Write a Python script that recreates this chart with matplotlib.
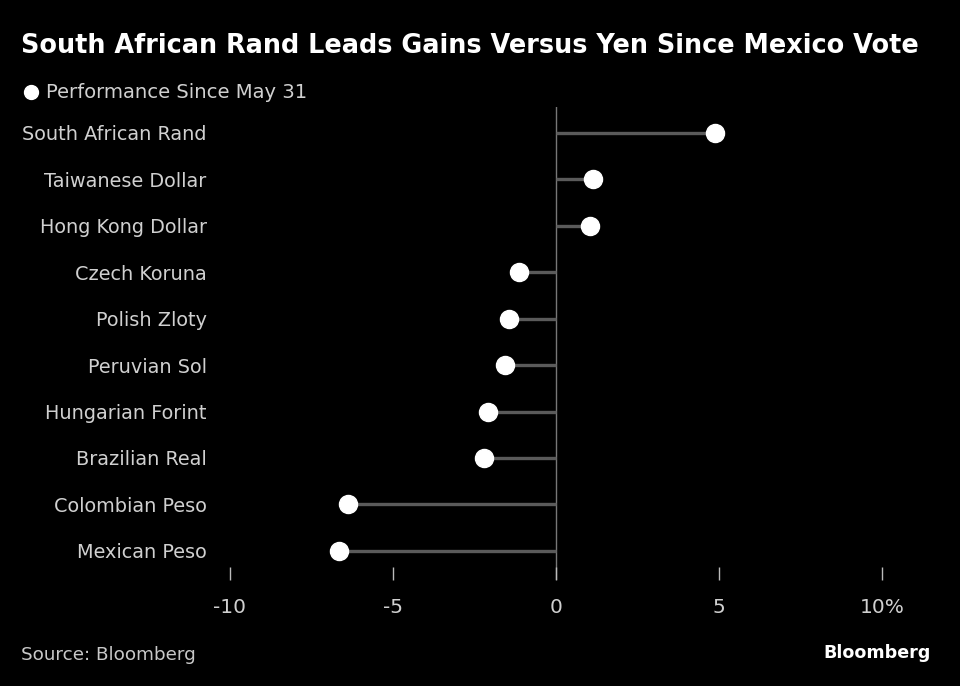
import matplotlib.pyplot as plt
from matplotlib.lines import Line2D

currencies = [
    "South African Rand",
    "Taiwanese Dollar",
    "Hong Kong Dollar",
    "Czech Koruna",
    "Polish Zloty",
    "Peruvian Sol",
    "Hungarian Forint",
    "Brazilian Real",
    "Colombian Peso",
    "Mexican Peso",
]
performance = [4.88, 1.13, 1.04, -1.13, -1.44, -1.56, -2.09, -2.21, -6.38, -6.66]
tick_values = [-10, -5, 0, 5, 10]
tick_labels = ["-10", "-5", "0", "5", "10%"]

W, H = 960, 686
fig = plt.figure(figsize=(W / 100, H / 100), dpi=100, facecolor="black")

# axes placed in pixel terms: left 215, right 920, top 107, bottom 580
left, right, top, bottom = 215, 920, 107, 580
ax = fig.add_axes([left / W, 1 - bottom / H, (right - left) / W, (bottom - top) / H])
ax.set_facecolor("black")

y = list(range(len(currencies)))
ax.hlines(y, 0, performance, color="#5a5a5a", linewidth=2.4, zorder=2)
ax.plot(performance, y, "o", color="white", markersize=13, zorder=3)
ax.axvline(0, color="#777777", linewidth=1.0, zorder=1)

# px -> data: 0 at 556, 32.6 px per unit
ax.set_xlim((left - 556) / 32.6, (right - 556) / 32.6)
ax.set_ylim(9.63, -0.56)

ax.set_yticks(y)
ax.set_yticklabels(currencies, fontsize=13.9, color="#d0d0d0")
ax.tick_params(axis="y", length=0, pad=6)

ax.set_xticks(tick_values)
ax.set_xticklabels(tick_labels, fontsize=14.5, color="#d0d0d0")
ax.tick_params(axis="x", direction="in", length=9.5, width=1.0, color="#bbbbbb", pad=13)

for s in ax.spines.values():
    s.set_visible(False)

fig.text(21 / W, 1 - 46 / H, "South African Rand Leads Gains Versus Yen Since Mexico Vote",
         fontsize=18.4, fontweight="bold", color="white", va="center", ha="left")

fig.add_artist(Line2D([31 / W], [1 - 92 / H], marker="o", color="white",
                      markersize=10, transform=fig.transFigure))
fig.text(46 / W, 1 - 92 / H, "Performance Since May 31", fontsize=14.1,
         color="#d0d0d0", va="center", ha="left")

fig.text(21 / W, 1 - 655 / H, "Source: Bloomberg", fontsize=13.2,
         color="#c8c8c8", va="center", ha="left")
fig.text(931 / W, 1 - 653 / H, "Bloomberg", fontsize=12.6, fontweight="bold",
         color="white", va="center", ha="right")

fig.savefig("out.png", dpi=100, facecolor="black")
